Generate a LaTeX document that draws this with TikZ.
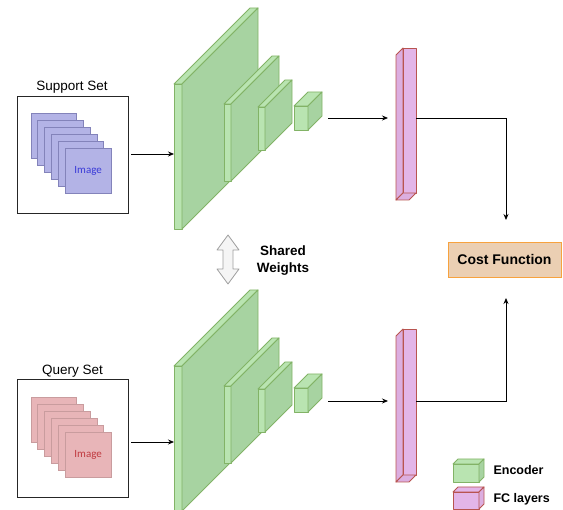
\documentclass[tikz,border=0pt]{standalone}
\usepackage{fontspec}
\setmainfont{Liberation Sans}
\newfontfamily\imgfont{Carlito}
\usetikzlibrary{arrows.meta}

\definecolor{encfront}{HTML}{B9E4B1}
\definecolor{encside}{HTML}{A7D3A1}
\definecolor{encline}{HTML}{82B366}
\definecolor{fcfill}{HTML}{E3B5E8}
\definecolor{fcside}{HTML}{DCAEE0}
\definecolor{fcline}{HTML}{B85450}
\definecolor{supfill}{HTML}{B3B3E6}
\definecolor{supline}{HTML}{8383BA}
\definecolor{suptext}{HTML}{3A3AD8}
\definecolor{qryfill}{HTML}{E8B5B8}
\definecolor{qryline}{HTML}{C99C9E}
\definecolor{qrytext}{HTML}{C0393F}
\definecolor{costfill}{HTML}{EBCFB3}
\definecolor{costline}{HTML}{F7A23E}
\definecolor{swfill}{HTML}{F5F5F5}
\definecolor{swline}{HTML}{9E9E9E}

% box seen from the front: X, Y, W, H, depth, front/top fill, side fill, stroke
\newcommand{\isocube}[8]{%
  \filldraw[draw=#8, fill=#6, line width=0.9pt, line join=round]
    (#1,#2+#5) rectangle (#1+#3-#5,#2+#4);
  \filldraw[draw=#8, fill=#6, line width=0.9pt, line join=round]
    (#1,#2+#5) -- (#1+#5,#2) -- (#1+#3,#2) -- (#1+#3-#5,#2+#5) -- cycle;
  \filldraw[draw=#8, fill=#7, line width=0.9pt, line join=round]
    (#1+#3-#5,#2+#5) -- (#1+#3,#2) -- (#1+#3,#2+#4-#5) -- (#1+#3-#5,#2+#4) -- cycle;
}
% fully connected bar: X, Y, W, H, depth
\newcommand{\fcbar}[5]{%
  \filldraw[draw=fcline, fill=fcside, line width=0.9pt, line join=round]
    (#1,#2+#5) -- (#1+#5,#2) -- (#1+#5,#2+#4-#5) -- (#1,#2+#4) -- cycle;
  \filldraw[draw=fcline, fill=fcfill, line width=0.9pt, line join=round]
    (#1+#5,#2) rectangle (#1+#3,#2+#4-#5);
  \filldraw[draw=fcline, fill=fcside, line width=0.9pt, line join=round]
    (#1,#2+#4) -- (#1+#5,#2+#4-#5) -- (#1+#3,#2+#4-#5) -- (#1+#3-#5,#2+#4) -- cycle;
}

\tikzset{
  arr/.style={draw=black, line width=0.8pt, -{Stealth[length=6pt,width=5pt]}},
  setbox/.style={draw=black!85, line width=0.9pt, fill=white},
  title/.style={font=\fontsize{13.5}{16}\selectfont},
  boldlbl/.style={font=\fontsize{13.5}{17}\selectfont\bfseries},
  legendlbl/.style={font=\fontsize{12.5}{15}\selectfont\bfseries, anchor=west},
}

\begin{document}
\begin{tikzpicture}[x=1pt, y=-1pt]
\useasboundingbox (0,0) rectangle (563,510);

% ---------- support branch ----------
\node[title] (suptitle) at (72,87) {Support Set};
\draw[setbox] (17,96) rectangle (128,213);
\coordinate (supout) at (131,154);
\foreach \i in {0,...,4}
  \filldraw[draw=supline, fill=supfill, line width=0.8pt]
    (31+6.8*\i,113+7*\i) rectangle ++(45.5,45.5);
\node[draw=supline, fill=supfill, line width=0.8pt, minimum width=45.5pt,
      minimum height=45.5pt, inner sep=0pt, anchor=north west,
      text=suptext, font=\imgfont\fontsize{11}{12}\selectfont]
  (supimg) at (65,148) {Image};

\isocube{174}{8}{84}{221}{76}{encfront}{encside}{encline}
\isocube{224}{56}{55}{125}{48}{encfront}{encside}{encline}
\isocube{258}{80}{34}{70}{27}{encfront}{encside}{encline}
\isocube{294}{92}{28}{38}{14}{encfront}{encside}{encline}
\coordinate (encAin) at (174,154);
\coordinate (encAout) at (328,118);
\coordinate (fcAin) at (388,118);
\fcbar{396}{48}{20}{152}{7}
\coordinate (fcAout) at (416,118);

% ---------- query branch ----------
\node[title] (qrytitle) at (72.5,371) {Query Set};
\draw[setbox] (17,379) rectangle (128,497);
\coordinate (qryout) at (131,442);
\foreach \i in {0,...,4}
  \filldraw[draw=qryline, fill=qryfill, line width=0.8pt]
    (31+6.8*\i,397+7*\i) rectangle ++(45.5,45.5);
\node[draw=qryline, fill=qryfill, line width=0.8pt, minimum width=45.5pt,
      minimum height=45.5pt, inner sep=0pt, anchor=north west,
      text=qrytext, font=\imgfont\fontsize{11}{12}\selectfont]
  (qryimg) at (65,432) {Image};

\isocube{174}{290}{84}{221}{76}{encfront}{encside}{encline}
\isocube{224}{338}{55}{125}{48}{encfront}{encside}{encline}
\isocube{258}{362}{34}{70}{27}{encfront}{encside}{encline}
\isocube{294}{374}{28}{38}{14}{encfront}{encside}{encline}
\coordinate (encBin) at (174,442);
\coordinate (encBout) at (328,401);
\coordinate (fcBin) at (388,401);
\fcbar{396}{329}{20}{153}{7}
\coordinate (fcBout) at (416,401);

% ---------- shared weights ----------
\filldraw[draw=swline, fill=swfill, line width=0.8pt, line join=round]
  (228,235) -- (239,250) -- (233,250) -- (233,269) -- (239,269) -- (228,284)
  -- (217,269) -- (223,269) -- (223,250) -- (217,250) -- cycle;
\node[boldlbl, align=center] (shared) at (283,261) {Shared\\Weights};

% ---------- cost function ----------
\node[draw=costline, fill=costfill, line width=0.9pt, minimum width=113pt,
      minimum height=35pt, inner sep=0pt,
      font=\fontsize{14}{16}\selectfont\bfseries] (cost) at (504.5,259.5) {Cost Function};
\coordinate (costAin) at (506,220);
\coordinate (costBin) at (506,298);

% ---------- connectors ----------
\draw[arr] (supout) -- (encAin);
\draw[arr] (encAout) -- (fcAin);
\draw[arr] (fcAout) -| (costAin);
\draw[arr] (qryout) -- (encBin);
\draw[arr] (encBout) -- (fcBin);
\draw[arr] (fcBout) -| (costBin);

% ---------- legend ----------
\isocube{453}{459}{31}{23}{5}{encfront}{encside}{encline}
\node[legendlbl] (legenc) at (490,470) {Encoder};
\isocube{453}{487}{31}{22}{5}{fcfill}{fcside}{fcline}
\node[legendlbl] (legfc) at (490,499.5) {FC layers};
\end{tikzpicture}
\end{document}
